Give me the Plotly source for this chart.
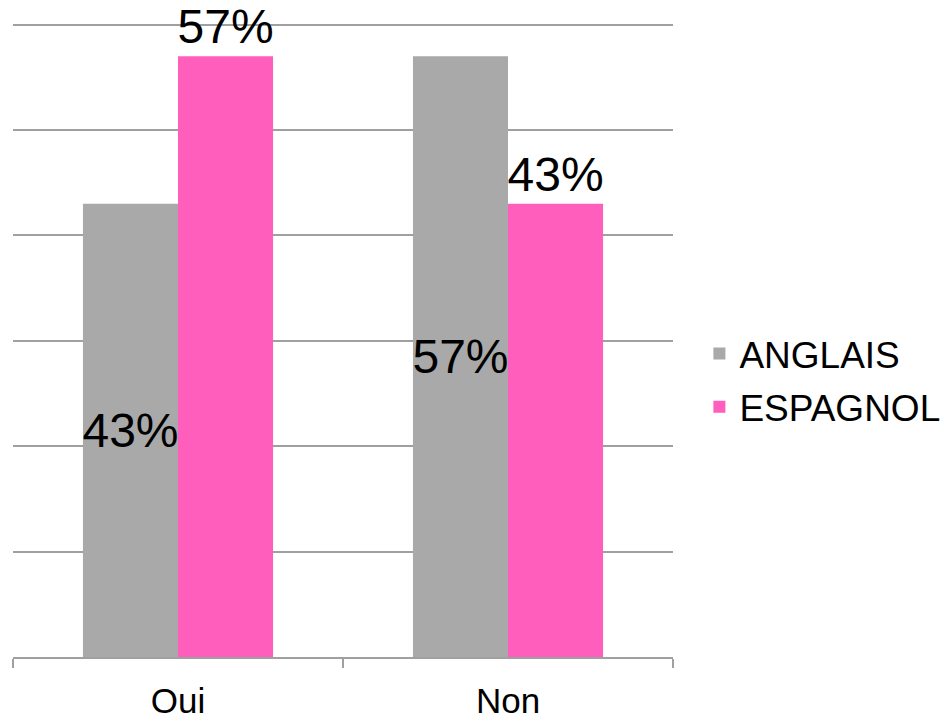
import plotly.graph_objects as go

categories = ["Oui", "Non"]
anglais = [0.43, 0.57]
espagnol = [0.57, 0.43]
series_names = ["ANGLAIS", "ESPAGNOL"]

FONT = "Liberation Sans, Arial, Helvetica, sans-serif"

fig = go.Figure()
fig.add_trace(go.Bar(
    x=categories, y=anglais, name=series_names[0],
    marker=dict(color="#a9a9a9", line=dict(width=0)),
    texttemplate="%{y:.0%}", textposition="inside", insidetextanchor="middle",
    constraintext="none", textangle=0,
    textfont=dict(size=48, color="black", family=FONT),
    legendgroup="a",
))
fig.add_trace(go.Bar(
    x=categories, y=espagnol, name=series_names[1],
    marker=dict(color="#ff5ebd", line=dict(width=0)),
    texttemplate="%{y:.0%}", textposition="outside",
    constraintext="none", textangle=0,
    textfont=dict(size=48, color="black", family=FONT),
    cliponaxis=False,
    legendgroup="b",
))

fig.update_layout(
    width=944, height=723,
    margin=dict(l=13, r=271, t=14, b=66, autoexpand=False),
    paper_bgcolor="white", plot_bgcolor="white",
    barmode="group", bargap=0.424, bargroupgap=0,
    font=dict(family=FONT, color="black"),
    showlegend=True,
    legend=dict(x=1.04, xanchor="left", y=0.43, yanchor="middle",
                font=dict(size=37, color="black", family=FONT),
                tracegroupgap=2, bgcolor="rgba(0,0,0,0)"),
)
fig.update_xaxes(
    showline=True, linecolor="#a0a0a0", linewidth=2,
    ticks="outside", tickson="boundaries", ticklen=9, tickcolor="#a0a0a0", tickwidth=2,
    tickfont=dict(size=35, color="black", family=FONT),
    ticklabelstandoff=12, showgrid=False, automargin=False,
)
fig.update_yaxes(
    range=[0, 0.61], tick0=0, dtick=0.1, showticklabels=False,
    showgrid=True, gridcolor="#a0a0a0", gridwidth=2, zeroline=False, automargin=False,
)

fig.write_html("out.html", config={"displayModeBar": False},
               post_script="document.body.style.margin='0px';")
